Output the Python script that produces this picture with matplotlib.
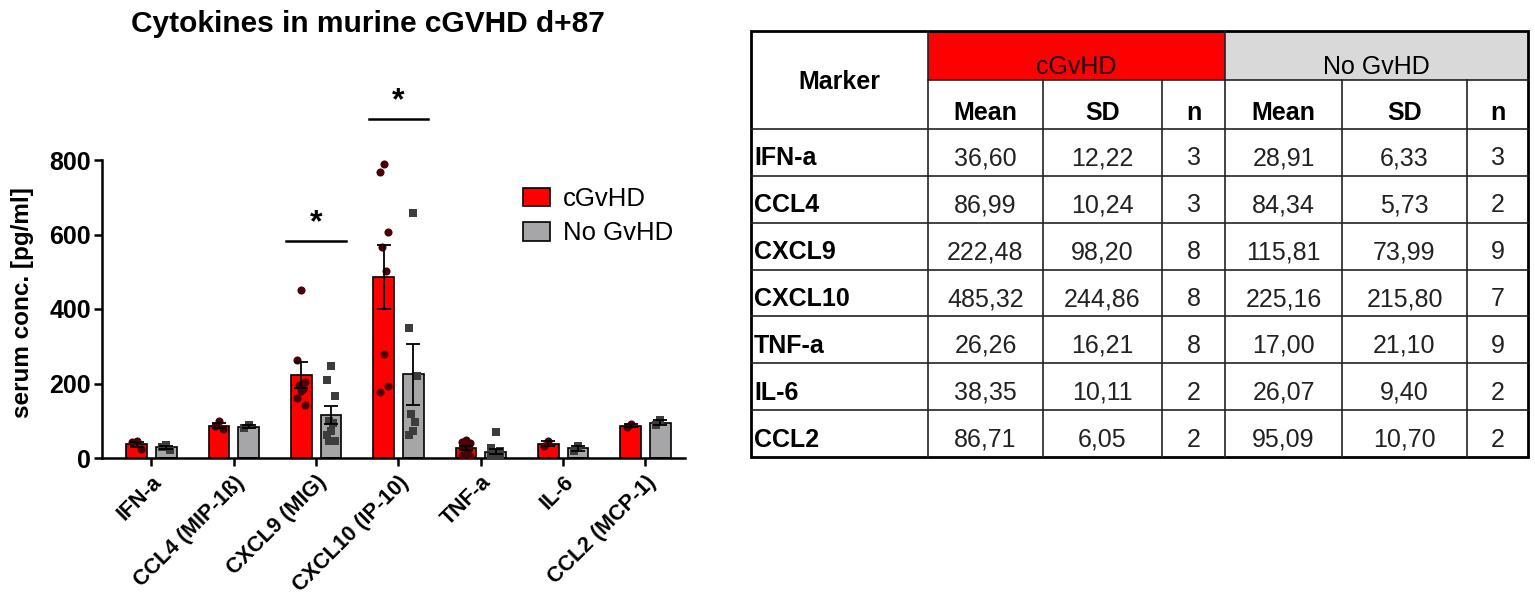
import numpy as np
import matplotlib
matplotlib.use("Agg")
import matplotlib.pyplot as plt
from matplotlib.patches import Rectangle

plt.rcParams['font.family'] = ['Liberation Sans', 'DejaVu Sans']

# ---- data -----------------------------------------------------------------
markers = ["IFN-a", "CCL4", "CXCL9", "CXCL10", "TNF-a", "IL-6", "CCL2"]
tick_labels = ["IFN-a", "CCL4 (MIP-1ß)", "CXCL9 (MIG)", "CXCL10 (IP-10)",
               "TNF-a", "IL-6", "CCL2 (MCP-1)"]

cgvhd_mean = [36.60, 86.99, 222.48, 485.32, 26.26, 38.35, 86.71]
cgvhd_sd = [12.22, 10.24, 98.20, 244.86, 16.21, 10.11, 6.05]
cgvhd_n = [3, 3, 8, 8, 8, 2, 2]

nogvhd_mean = [28.91, 84.34, 115.81, 225.16, 17.00, 26.07, 95.09]
nogvhd_sd = [6.33, 5.73, 73.99, 215.80, 21.10, 9.40, 10.70]
nogvhd_n = [3, 2, 9, 7, 9, 2, 2]

# individual animals
cgvhd_points = [
    [45, 42, 23],
    [98, 85, 78],
    [450, 262, 205, 195, 185, 180, 160, 143],
    [790, 768, 606, 566, 502, 278, 178, 192],
    [48, 42, 40, 30, 22, 15, 8, 5],
    [45.5, 31.2],
    [91.0, 82.4],
]
nogvhd_points = [
    [35, 29, 22.5],
    [88.4, 80.3],
    [246, 210, 167, 100, 95, 72, 62, 45, 45],
    [657, 350, 221, 118, 96, 73, 63],
    [70, 28, 18, 12, 9, 7, 4, 3, 2],
    [32.7, 19.4],
    [102.65, 87.5],
]

# significance: (category index, line height, label)
sig_marks = [(2, 583, "*"), (3, 910, "*")]

# ---- figure ---------------------------------------------------------------
fig = plt.figure(figsize=(15.35, 6.07), dpi=100)
W, H = 1535, 607

ax = fig.add_axes([102 / W, 1 - 458 / H, 583 / W, (458 - 85.5) / H])

x = np.arange(len(markers))
off = 0.18
bw = 0.25
red = "#ff0000"
grey = "#a6a6a8"

sem_c = np.array(cgvhd_sd) / np.sqrt(cgvhd_n)
sem_n = np.array(nogvhd_sd) / np.sqrt(nogvhd_n)

ax.bar(x - off, cgvhd_mean, bw, color=red, edgecolor="black", linewidth=1.2,
       label="cGvHD", zorder=2)
ax.bar(x + off, nogvhd_mean, bw, color=grey, edgecolor="black", linewidth=1.2,
       label="No GvHD", zorder=2)

jit = [0.0, -0.05, 0.05, -0.025, 0.025]
for i in range(len(markers)):
    pc = cgvhd_points[i]
    pn = nogvhd_points[i]
    ax.scatter([x[i] - off + jit[k % 5] for k in range(len(pc))], pc,
               s=34, marker="o", color="#4a0006", zorder=3, linewidths=0)
    ax.scatter([x[i] + off + jit[k % 5] for k in range(len(pn))], pn,
               s=32, marker="s", color="#3c3c3c", zorder=3, linewidths=0)

ax.errorbar(x - off, cgvhd_mean, yerr=sem_c, fmt="none", ecolor="black",
            elinewidth=1.3, capsize=5, capthick=1.3, zorder=4)
ax.errorbar(x + off, nogvhd_mean, yerr=sem_n, fmt="none", ecolor="black",
            elinewidth=1.3, capsize=5, capthick=1.3, zorder=4)

for idx, h, lab in sig_marks:
    ax.plot([idx - 0.36, idx + 0.36], [h, h], color="black", lw=1.8,
            clip_on=False)
    ax.text(idx, h + 8, lab, ha="center", va="bottom", fontsize=23,
            fontweight="bold")

ax.set_xlim(-0.6, 6.48)
ax.set_ylim(0, 1000)
ax.set_yticks([0, 200, 400, 600, 800])
ax.spines["left"].set_bounds(0, 800)
ax.spines["top"].set_visible(False)
ax.spines["right"].set_visible(False)
for s in ["left", "bottom"]:
    ax.spines[s].set_linewidth(1.8)
ax.tick_params(axis="both", width=1.8, length=6, direction="out")
ax.tick_params(axis="y", labelsize=18, pad=2)
ax.tick_params(axis="x", labelsize=15.5, pad=4)
for t in ax.get_yticklabels():
    t.set_fontweight("bold")
ax.set_xticks(x)
ax.set_xticklabels(tick_labels, rotation=45, ha="right",
                   rotation_mode="anchor", fontweight="bold")
ax.set_ylabel("serum conc. [pg/ml]", fontsize=17.5, fontweight="bold")
ax.yaxis.set_label_coords(34 / W, 1 - 303 / H, transform=fig.transFigure)

ax.legend(loc="upper left", bbox_to_anchor=(523 / W, 1 - 187 / H),
          bbox_transform=fig.transFigure, frameon=False, fontsize=18.5,
          handlelength=1.05, handleheight=0.75, handletextpad=0.5,
          labelspacing=0.4, borderpad=0, borderaxespad=0)

fig.text(368 / W, 1 - 24 / H, "Cytokines in murine cGVHD d+87",
         ha="center", va="center", fontsize=21.5, fontweight="bold")

# ---- table ----------------------------------------------------------------
tx = fig.add_axes([0, 0, 1, 1])
tx.set_xlim(0, W)
tx.set_ylim(H, 0)
tx.axis("off")

cols = [751, 928, 1043, 1162, 1225, 1342, 1467, 1528]
top, mid, head = 31, 80, 129
row_h = (457 - head) / len(markers)
rows = [head + row_h * i for i in range(len(markers) + 1)]
bottom = rows[-1]

tx.add_patch(Rectangle((cols[1], top), cols[4] - cols[1], mid - top,
                       facecolor="#ff0000", edgecolor="none"))
tx.add_patch(Rectangle((cols[4], top), cols[7] - cols[4], mid - top,
                       facecolor="#d9d9d9", edgecolor="none"))

lc = "#222222"
# horizontal lines
tx.plot([cols[1], cols[7]], [mid, mid], color=lc, lw=1.2)
for y in rows[:-1]:
    tx.plot([cols[0], cols[7]], [y, y], color=lc, lw=1.2)
# vertical lines
for c in [cols[1], cols[4]]:
    tx.plot([c, c], [top, bottom], color=lc, lw=1.2)
for c in [cols[2], cols[3], cols[5], cols[6]]:
    tx.plot([c, c], [mid, bottom], color=lc, lw=1.2)
tx.add_patch(Rectangle((cols[0], top), cols[7] - cols[0], bottom - top,
                       facecolor="none", edgecolor="black", lw=2.0))

fs = 18
tx.text((cols[0] + cols[1]) / 2, 82, "Marker", ha="center", va="center",
        fontsize=fs, fontweight="bold")
tx.text((cols[1] + cols[4]) / 2, 67, "cGvHD", ha="center", va="center",
        fontsize=fs, color="#1a0000")
tx.text((cols[4] + cols[7]) / 2, 67, "No GvHD", ha="center", va="center",
        fontsize=fs)
for j, lab in enumerate(["Mean", "SD", "n", "Mean", "SD", "n"]):
    tx.text((cols[j + 1] + cols[j + 2]) / 2, 113, lab, ha="center",
            va="center", fontsize=fs, fontweight="bold")


def fmt(v):
    return f"{v:.2f}".replace(".", ",")


for i, m in enumerate(markers):
    yc = rows[i] + row_h / 2 + 6
    tx.text(cols[0] + 3, yc, m, ha="left", va="center", fontsize=fs,
            fontweight="bold")
    vals = [fmt(cgvhd_mean[i]), fmt(cgvhd_sd[i]), str(cgvhd_n[i]),
            fmt(nogvhd_mean[i]), fmt(nogvhd_sd[i]), str(nogvhd_n[i])]
    for j, v in enumerate(vals):
        tx.text((cols[j + 1] + cols[j + 2]) / 2, yc, v, ha="center",
                va="center", fontsize=fs, color="#222222")

fig.savefig("out.png", dpi=100)
